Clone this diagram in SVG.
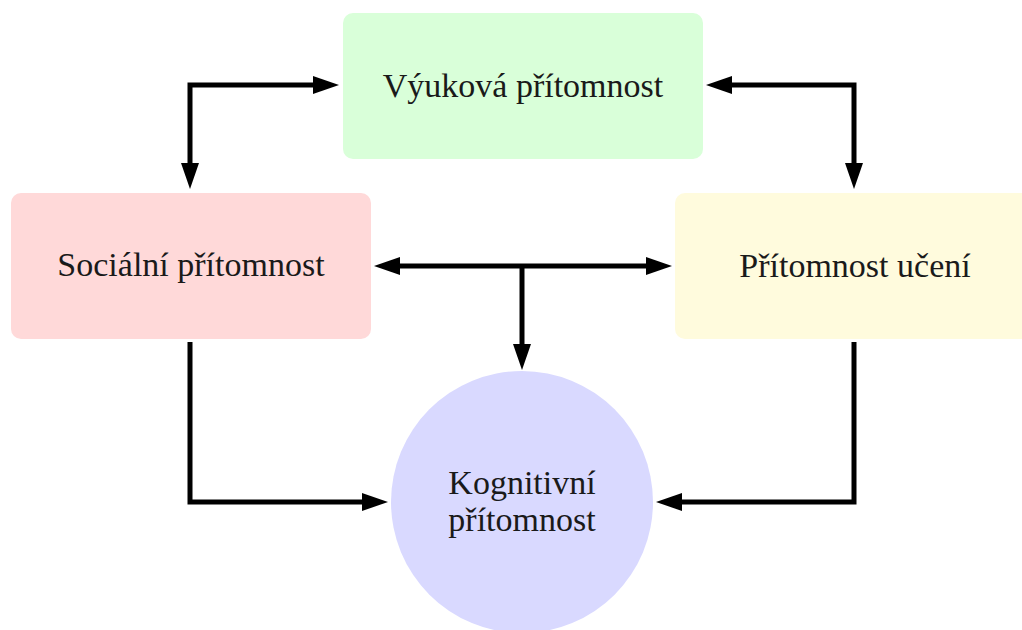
<svg xmlns="http://www.w3.org/2000/svg" width="1022" height="630" viewBox="0 0 1022 630">
<style>
.lbl{font-family:"Liberation Serif","DejaVu Serif",serif;font-size:34px;fill:#1a1a1a;text-anchor:middle}
.con{fill:none;stroke:#000;stroke-width:5;stroke-linejoin:miter}
</style>
<defs>
<marker id="ah" markerUnits="userSpaceOnUse" markerWidth="30" markerHeight="24" viewBox="-1 -12 30 24" refX="0" refY="0" orient="auto-start-reverse">
<path d="M-1,-9 L25,0 L-1,9 Z" fill="#000"/>
</marker>
</defs>
<rect width="1022" height="630" fill="#fff"/>
<g id="vyukova">
<rect x="343" y="13" width="360" height="146" rx="10" fill="#d9ffd9"/>
<text class="lbl" x="523" y="97">Výuková přítomnost</text>
</g>
<g id="socialni">
<rect x="11" y="193" width="360" height="146" rx="10" fill="#ffd9d9"/>
<text class="lbl" x="191" y="276">Sociální přítomnost</text>
</g>
<g id="uceni">
<rect x="675" y="193" width="360" height="146" rx="10" fill="#fffbdd"/>
<text class="lbl" x="855" y="277">Přítomnost učení</text>
</g>
<g id="kognitivni">
<ellipse cx="522" cy="502" rx="131" ry="131" fill="#d9d9ff"/>
<text class="lbl" x="522" y="494">Kognitivní</text>
<text class="lbl" x="522" y="531">přítomnost</text>
</g>
<g id="connectors">
<path class="con" d="M190,164 L190,85 L314,85" marker-start="url(#ah)" marker-end="url(#ah)"/>
<path class="con" d="M731,85 L854,85 L854,164" marker-start="url(#ah)" marker-end="url(#ah)"/>
<path class="con" d="M399,266 L647,266" marker-start="url(#ah)" marker-end="url(#ah)"/>
<path class="con" d="M522,266 L522,345" marker-end="url(#ah)"/>
<path class="con" d="M190,342 L190,502 L363,502" marker-end="url(#ah)"/>
<path class="con" d="M854,342 L854,502 L681,502" marker-end="url(#ah)"/>
</g>
</svg>
